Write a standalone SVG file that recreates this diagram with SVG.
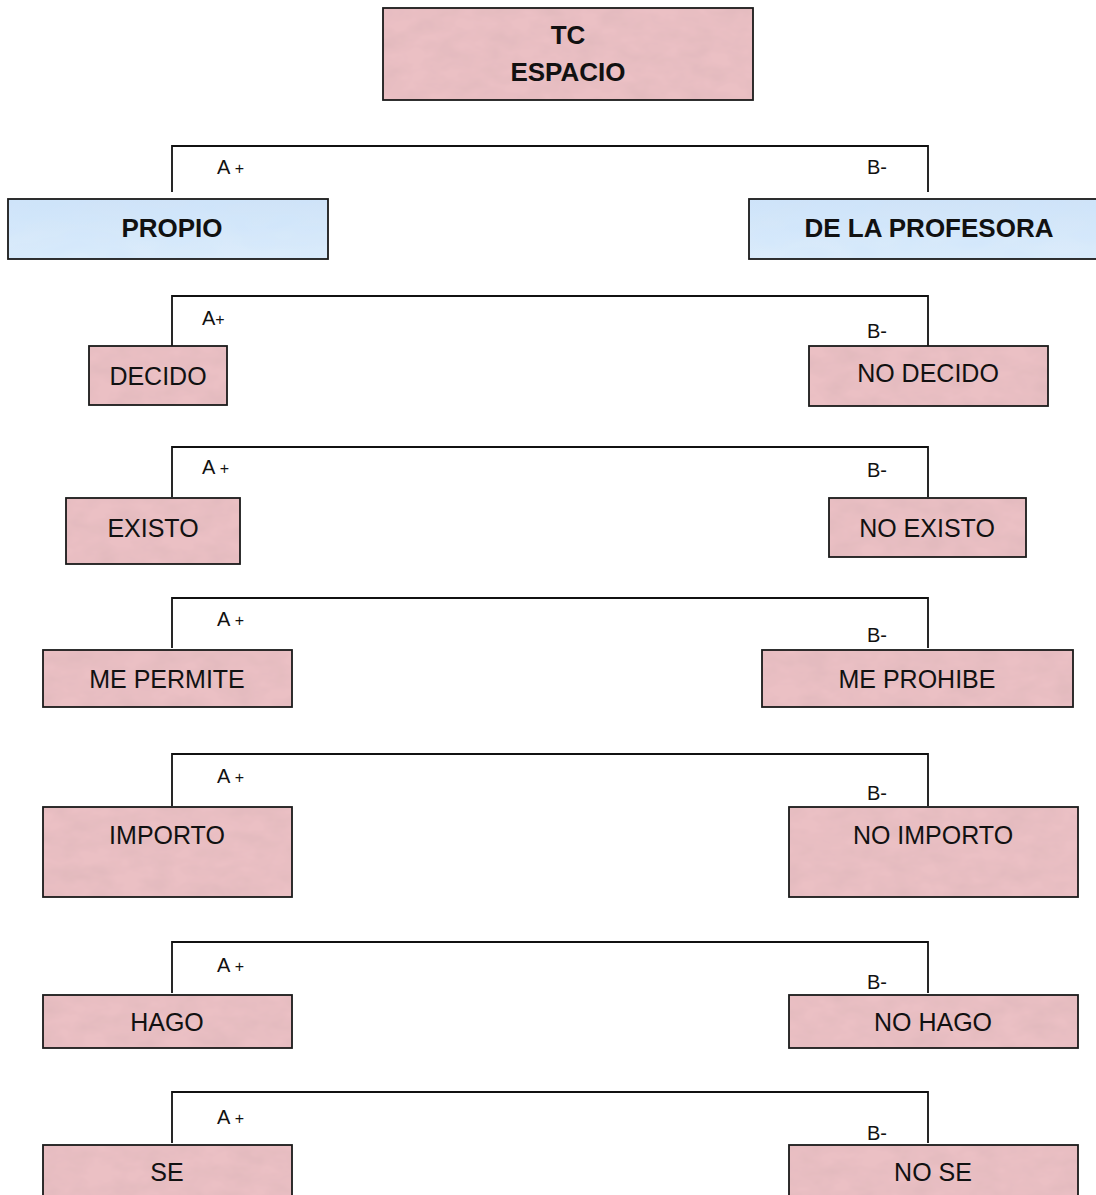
<svg xmlns="http://www.w3.org/2000/svg" width="1096" height="1195" viewBox="0 0 1096 1195">
<defs>
<filter id="tex" x="0" y="0" width="100%" height="100%">
<feTurbulence type="fractalNoise" baseFrequency="0.035 0.06" numOctaves="3" seed="4" result="n"/>
<feColorMatrix in="n" type="matrix" values="0 0 0 0 0.6  0 0 0 0 0.4  0 0 0 0 0.43  0 0 0 0.5 -0.14" result="c"/>
<feComposite in="c" in2="SourceGraphic" operator="atop"/>
</filter>
<filter id="texb" x="0" y="0" width="100%" height="100%">
<feTurbulence type="fractalNoise" baseFrequency="0.02 0.05" numOctaves="2" seed="7" result="n"/>
<feColorMatrix in="n" type="matrix" values="0 0 0 0 0.6  0 0 0 0 0.78  0 0 0 0 0.97  0 0 0 0.8 -0.22" result="c"/>
<feComposite in="c" in2="SourceGraphic" operator="atop"/>
</filter>
<linearGradient id="blue" x1="0" y1="0" x2="0" y2="1">
<stop offset="0" stop-color="#cfe3f8"/>
<stop offset="1" stop-color="#dcecfb"/>
</linearGradient>
</defs>
<style>
.pink{fill:#ebc0c4;stroke:none}
.blue{fill:url(#blue);stroke:none}
.bd{fill:none;stroke:#1a1a1a;stroke-width:1.8}
.t{font-family:"Liberation Sans",Arial,sans-serif;font-size:25px;fill:#111;text-anchor:middle}
.b{font-family:"Liberation Sans",Arial,sans-serif;font-size:26px;font-weight:bold;fill:#111;text-anchor:middle}
.l{font-family:"Liberation Sans",Arial,sans-serif;font-size:20px;fill:#111}
.p{font-size:16px}
.c{fill:none;stroke:#111;stroke-width:1.8}
</style>
<rect width="1096" height="1195" fill="#fff"/>

<g id="connectors">
<path class="c" d="M172,192 V146 H928 V192"/>
<path class="c" d="M172,346 V296 H928 V346"/>
<path class="c" d="M172,497 V447 H928 V497"/>
<path class="c" d="M172,648 V598 H928 V648"/>
<path class="c" d="M172,806 V754 H928 V806"/>
<path class="c" d="M172,993 V942 H928 V993"/>
<path class="c" d="M172,1143 V1092 H928 V1143"/>
<text class="l" x="217" y="174">A <tspan class="p">+</tspan></text>
<text class="l" x="867" y="174">B-</text>
<text class="l" x="202" y="325">A<tspan class="p">+</tspan></text>
<text class="l" x="867" y="338">B-</text>
<text class="l" x="202" y="474">A <tspan class="p">+</tspan></text>
<text class="l" x="867" y="477">B-</text>
<text class="l" x="217" y="626">A <tspan class="p">+</tspan></text>
<text class="l" x="867" y="642">B-</text>
<text class="l" x="217" y="783">A <tspan class="p">+</tspan></text>
<text class="l" x="867" y="800">B-</text>
<text class="l" x="217" y="972">A <tspan class="p">+</tspan></text>
<text class="l" x="867" y="989">B-</text>
<text class="l" x="217" y="1124">A <tspan class="p">+</tspan></text>
<text class="l" x="867" y="1140">B-</text>
</g>

<g id="tc-espacio">
<rect class="pink" x="383" y="8" width="370" height="92" filter="url(#tex)"/>
<rect class="bd" x="383" y="8" width="370" height="92"/>
<text class="b" x="568" y="44">TC</text>
<text class="b" x="568" y="81">ESPACIO</text>
</g>

<g id="propio">
<rect class="blue" x="8" y="199" width="320" height="60" filter="url(#texb)"/>
<rect class="bd" x="8" y="199" width="320" height="60"/>
<text class="b" x="172" y="237">PROPIO</text>
</g>
<g id="de-la-profesora">
<rect class="blue" x="749" y="199" width="350" height="60" filter="url(#texb)"/>
<rect class="bd" x="749" y="199" width="350" height="60"/>
<text class="b" x="929" y="237">DE LA PROFESORA</text>
</g>

<g id="decido">
<rect class="pink" x="89" y="346" width="138" height="59" filter="url(#tex)"/>
<rect class="bd" x="89" y="346" width="138" height="59"/>
<text class="t" x="158" y="385">DECIDO</text>
</g>
<g id="no-decido">
<rect class="pink" x="809" y="346" width="239" height="60" filter="url(#tex)"/>
<rect class="bd" x="809" y="346" width="239" height="60"/>
<text class="t" x="928" y="382">NO DECIDO</text>
</g>

<g id="existo">
<rect class="pink" x="66" y="498" width="174" height="66" filter="url(#tex)"/>
<rect class="bd" x="66" y="498" width="174" height="66"/>
<text class="t" x="153" y="537">EXISTO</text>
</g>
<g id="no-existo">
<rect class="pink" x="829" y="498" width="197" height="59" filter="url(#tex)"/>
<rect class="bd" x="829" y="498" width="197" height="59"/>
<text class="t" x="927" y="537">NO EXISTO</text>
</g>

<g id="me-permite">
<rect class="pink" x="43" y="650" width="249" height="57" filter="url(#tex)"/>
<rect class="bd" x="43" y="650" width="249" height="57"/>
<text class="t" x="167" y="688">ME PERMITE</text>
</g>
<g id="me-prohibe">
<rect class="pink" x="762" y="650" width="311" height="57" filter="url(#tex)"/>
<rect class="bd" x="762" y="650" width="311" height="57"/>
<text class="t" x="917" y="688">ME PROHIBE</text>
</g>

<g id="importo">
<rect class="pink" x="43" y="807" width="249" height="90" filter="url(#tex)"/>
<rect class="bd" x="43" y="807" width="249" height="90"/>
<text class="t" x="167" y="844">IMPORTO</text>
</g>
<g id="no-importo">
<rect class="pink" x="789" y="807" width="289" height="90" filter="url(#tex)"/>
<rect class="bd" x="789" y="807" width="289" height="90"/>
<text class="t" x="933" y="844">NO IMPORTO</text>
</g>

<g id="hago">
<rect class="pink" x="43" y="995" width="249" height="53" filter="url(#tex)"/>
<rect class="bd" x="43" y="995" width="249" height="53"/>
<text class="t" x="167" y="1031">HAGO</text>
</g>
<g id="no-hago">
<rect class="pink" x="789" y="995" width="289" height="53" filter="url(#tex)"/>
<rect class="bd" x="789" y="995" width="289" height="53"/>
<text class="t" x="933" y="1031">NO HAGO</text>
</g>

<g id="se">
<rect class="pink" x="43" y="1145" width="249" height="60" filter="url(#tex)"/>
<rect class="bd" x="43" y="1145" width="249" height="60"/>
<text class="t" x="167" y="1181">SE</text>
</g>
<g id="no-se">
<rect class="pink" x="789" y="1145" width="289" height="60" filter="url(#tex)"/>
<rect class="bd" x="789" y="1145" width="289" height="60"/>
<text class="t" x="933" y="1181">NO SE</text>
</g>
</svg>
